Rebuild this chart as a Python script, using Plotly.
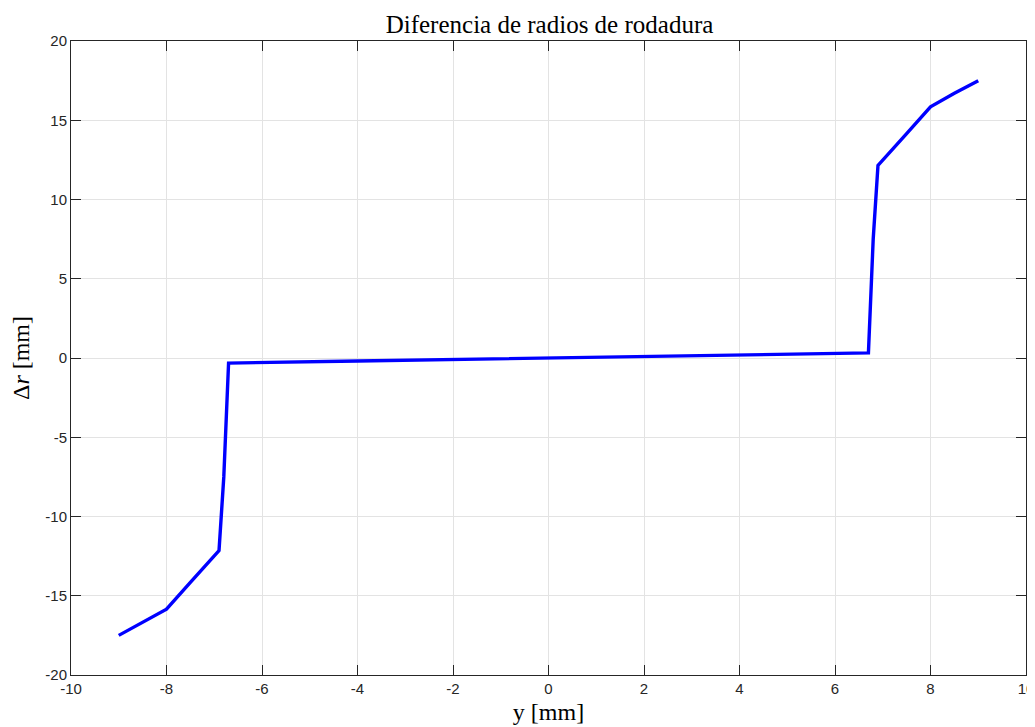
import plotly.graph_objects as go

# Data
y_mm = [-9.0, -8.5, -8.0, -7.5, -6.9, -6.8, -6.7, -4.0, -2.0, 0.0,
        2.0, 4.0, 6.7, 6.8, 6.9, 7.5, 8.0, 8.5, 9.0]
delta_r = [-17.5, -16.7, -15.85, -14.15, -12.15, -7.5, -0.32, -0.19, -0.09, 0.0,
           0.09, 0.19, 0.32, 7.5, 12.15, 14.15, 15.85, 16.7, 17.5]

x_ticks = [-10, -8, -6, -4, -2, 0, 2, 4, 6, 8, 10]
y_ticks = [-20, -15, -10, -5, 0, 5, 10, 15, 20]

axis_col = "#262626"
grid_col = "#e3e3e3"
serif = "Liberation Serif, DejaVu Serif, serif"
sans = "Liberation Sans, Arial, sans-serif"

fig = go.Figure()
fig.add_trace(go.Scatter(x=y_mm, y=delta_r, mode="lines",
                         line=dict(color="#0000ff", width=3.4),
                         showlegend=False))

fig.update_layout(
    width=1027, height=719,
    margin=dict(l=63, r=9, t=33, b=52),
    paper_bgcolor="white", plot_bgcolor="white",
    title=dict(text="Diferencia de radios de rodadura",
               font=dict(family=serif, size=25, color="black"),
               x=(549.5 - 8) / 1027, xanchor="center", y=0.989, yanchor="top"),
    xaxis=dict(range=[-10, 10], tickvals=x_ticks,
               ticktext=[str(v) for v in x_ticks],
               showgrid=True, gridcolor=grid_col, gridwidth=1,
               zeroline=False, showline=True, linecolor=axis_col, linewidth=1,
               mirror="ticks", ticks="inside", ticklen=10, tickcolor=axis_col,
               tickfont=dict(family=sans, size=15, color=axis_col),
               title=dict(text="y [mm]", font=dict(family=serif, size=24, color="black"),
                          standoff=7),
               automargin=False),
    yaxis=dict(range=[-20, 20], tickvals=y_ticks,
               ticktext=[str(v) for v in y_ticks],
               showgrid=True, gridcolor=grid_col, gridwidth=1,
               zeroline=False, showline=True, linecolor=axis_col, linewidth=1,
               mirror="ticks", ticks="inside", ticklen=10, tickcolor=axis_col,
               tickfont=dict(family=sans, size=15, color=axis_col),
               title=dict(text="Δ<i>r</i> [mm]", font=dict(family=serif, size=24, color="black"),
                          standoff=10),
               automargin=False),
)

fig.write_html("out.html")
